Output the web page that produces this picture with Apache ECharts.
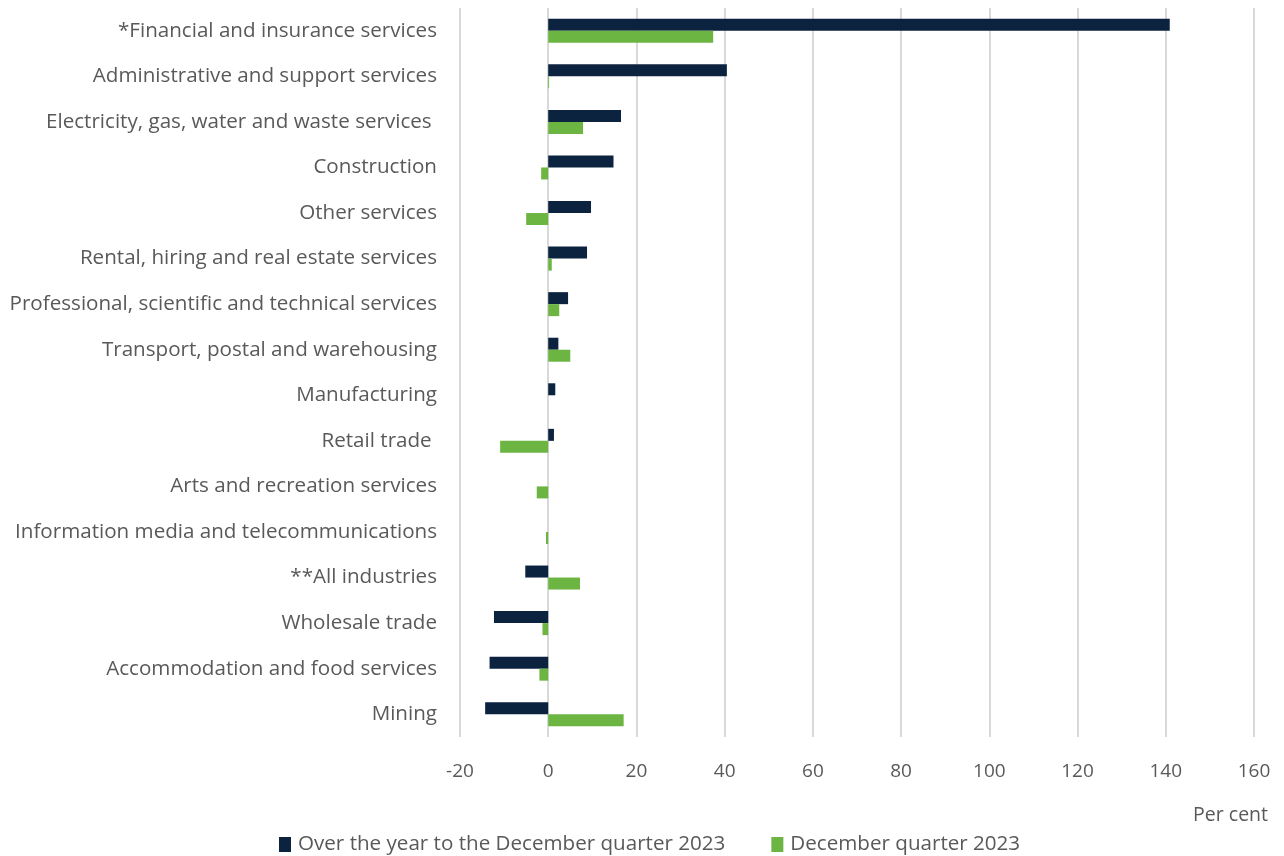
<!DOCTYPE html>
<html><head><meta charset="utf-8">
<script src="https://cdn.jsdelivr.net/npm/echarts@6/dist/echarts.min.js"></script>
<style>html,body{margin:0;padding:0;background:#fff}#c{width:1284px;height:856px}</style>
</head><body><div id="c"></div>
<script>
const categories = ["*Financial and insurance services","Administrative and support services","Electricity, gas, water and waste services ","Construction","Other services","Rental, hiring and real estate services","Professional, scientific and technical services","Transport, postal and warehousing","Manufacturing","Retail trade ","Arts and recreation services","Information media and telecommunications","**All industries","Wholesale trade","Accommodation and food services","Mining"];
const yearValues = [140.9,40.5,16.5,14.8,9.7,8.8,4.5,2.3,1.6,1.3,0,0,-5.2,-12.3,-13.3,-14.3];
const quarterValues = [37.4,0.2,7.9,-1.6,-5.0,0.8,2.5,5.0,0,-10.9,-2.6,-0.5,7.2,-1.3,-2.0,17.1];
const seriesNames = ["Over the year to the December quarter 2023","December quarter 2023"];
const xTicks = {min:-20,max:160,interval:20};
const chart = echarts.init(document.getElementById('c'));
const font = "Open Sans";
chart.setOption({
  animation:false,
  textStyle:{fontFamily:font},
  grid:{left:460,right:30,top:8,bottom:119,containLabel:false},
  legend:{left:274,top:829,itemWidth:12,itemHeight:15,itemGap:46,icon:'rect',
    textStyle:{fontSize:20.6,color:'#595959',fontFamily:font,padding:[0,0,0,2]},
    data:seriesNames},
  xAxis:{type:'value',min:xTicks.min,max:xTicks.max,interval:xTicks.interval,
    name:'Per cent',nameLocation:'end',nameGap:0,
    nameTextStyle:{fontSize:19.5,color:'#595959',align:'right',verticalAlign:'top',padding:[68,-14,0,0]},
    axisLine:{show:false},axisTick:{show:false},
    axisLabel:{fontSize:19,color:'#595959',margin:25},
    splitLine:{show:true,lineStyle:{color:'#d9d9d9',width:2}}},
  yAxis:{type:'category',data:categories,inverse:true,
    axisLine:{show:false},axisTick:{show:false},
    axisLabel:{fontSize:20.6,color:'#595959',margin:23,padding:[2,0,0,0]}},
  series:[
    {name:seriesNames[0],type:'bar',data:yearValues,barWidth:12,barGap:'0%',
      itemStyle:{color:'#0c2340'}},
    {name:seriesNames[1],type:'bar',data:quarterValues,barWidth:12,barGap:'0%',
      itemStyle:{color:'#6db543'}}
  ]
});
</script></body></html>
